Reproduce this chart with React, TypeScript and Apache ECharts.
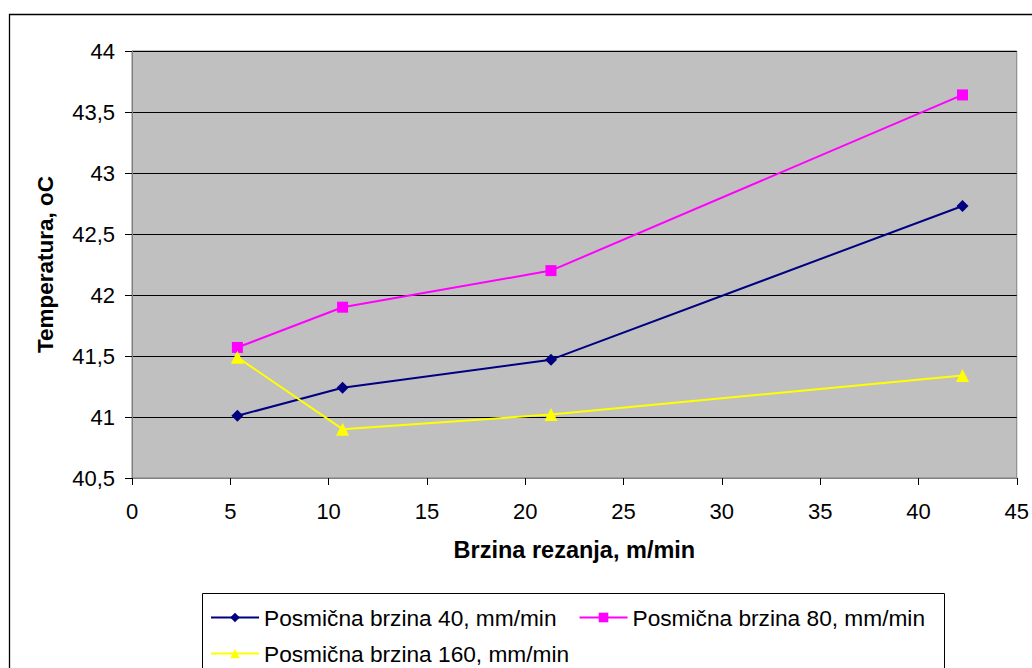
import React, { useEffect, useRef } from "react";
import * as echarts from "echarts";

const speeds = [5.36, 10.71, 21.31, 42.24];
const feed40 = [41.01, 41.24, 41.47, 42.73];
const feed80 = [41.57, 41.9, 42.2, 43.64];
const feed160 = [41.49, 40.9, 41.02, 41.34];
const seriesNames = [
  "Posmična brzina 40, mm/min",
  "Posmična brzina 80, mm/min",
  "Posmična brzina 160, mm/min",
];
const xTitle = "Brzina rezanja, m/min";
const yTitle = "Temperatura, oC";

const FONT = "'Liberation Sans', Arial, sans-serif";

export default function App() {
  const ref = useRef<HTMLDivElement>(null);
  useEffect(() => {
    if (!ref.current) return;
    const chart = echarts.init(ref.current, null, { renderer: "svg" });
    const pair = (ys: number[]) => speeds.map((x, i) => [x, ys[i]]);
    chart.setOption({
      animation: false,
      textStyle: { fontFamily: FONT, color: "#000" },
      graphic: [
        {
          type: "rect",
          shape: { x: 9.5, y: 14.5, width: 1030, height: 700 },
          style: { fill: "none", stroke: "#000", lineWidth: 1.3 },
          silent: true,
          z: -10,
        },
        {
          type: "rect",
          shape: { x: 202.5, y: 593.5, width: 742, height: 120 },
          style: { fill: "#fff", stroke: "#000", lineWidth: 1 },
          silent: true,
          z: -5,
        },
      ],
      grid: {
        left: 132,
        top: 51,
        width: 885,
        height: 427,
        show: true,
        backgroundColor: "#C0C0C0",
        borderColor: "#808080",
        borderWidth: 1,
      },
      xAxis: {
        type: "value",
        min: 0,
        max: 45,
        interval: 5,
        name: xTitle,
        nameLocation: "middle",
        nameGap: 60,
        nameTextStyle: { fontSize: 23.5, fontWeight: "bold", color: "#000", fontFamily: FONT },
        axisLine: { show: true, lineStyle: { color: "#808080", width: 1 } },
        axisTick: { show: true, inside: false, length: 7, lineStyle: { color: "#000" } },
        axisLabel: { fontSize: 22, color: "#000", margin: 22, fontFamily: FONT },
        splitLine: { show: false },
      },
      yAxis: {
        type: "value",
        min: 40.5,
        max: 44,
        interval: 0.5,
        name: yTitle,
        nameLocation: "middle",
        nameGap: 75,
        nameTextStyle: { fontSize: 22.5, fontWeight: "bold", color: "#000", fontFamily: FONT },
        axisLine: { show: true, lineStyle: { color: "#808080", width: 1 } },
        axisTick: { show: true, inside: false, length: 7, lineStyle: { color: "#000" } },
        axisLabel: {
          fontSize: 22,
          color: "#000",
          margin: 17,
          fontFamily: FONT,
          formatter: (v: number) => String(v).replace(".", ","),
        },
        splitLine: { show: true, lineStyle: { color: "#000", width: 1 } },
      },
      legend: [
        {
          data: [seriesNames[0], seriesNames[1]],
          left: 205,
          top: 601,
          itemWidth: 48,
          itemHeight: 12,
          itemGap: 22,
          textStyle: { fontSize: 22.7, color: "#000", fontFamily: FONT },
        },
        {
          data: [seriesNames[2]],
          left: 205,
          top: 637,
          itemWidth: 48,
          itemHeight: 12,
          itemGap: 22,
          textStyle: { fontSize: 22.7, color: "#000", fontFamily: FONT },
        },
      ],
      series: [
        {
          name: seriesNames[0],
          type: "line",
          data: pair(feed40),
          symbol: "diamond",
          symbolSize: 12,
          itemStyle: { color: "#000080" },
          lineStyle: { color: "#000080", width: 2 },
        },
        {
          name: seriesNames[1],
          type: "line",
          data: pair(feed80),
          symbol: "rect",
          symbolSize: 11,
          itemStyle: { color: "#FF00FF" },
          lineStyle: { color: "#FF00FF", width: 2 },
        },
        {
          name: seriesNames[2],
          type: "line",
          data: pair(feed160),
          symbol: "triangle",
          symbolSize: 13,
          itemStyle: { color: "#FFFF00" },
          lineStyle: { color: "#FFFF00", width: 2 },
        },
      ],
    });
    return () => chart.dispose();
  }, []);
  return (
    <div
      ref={ref}
      style={{ position: "fixed", left: 0, top: 0, width: 1032, height: 668, background: "#fff" }}
    />
  );
}
